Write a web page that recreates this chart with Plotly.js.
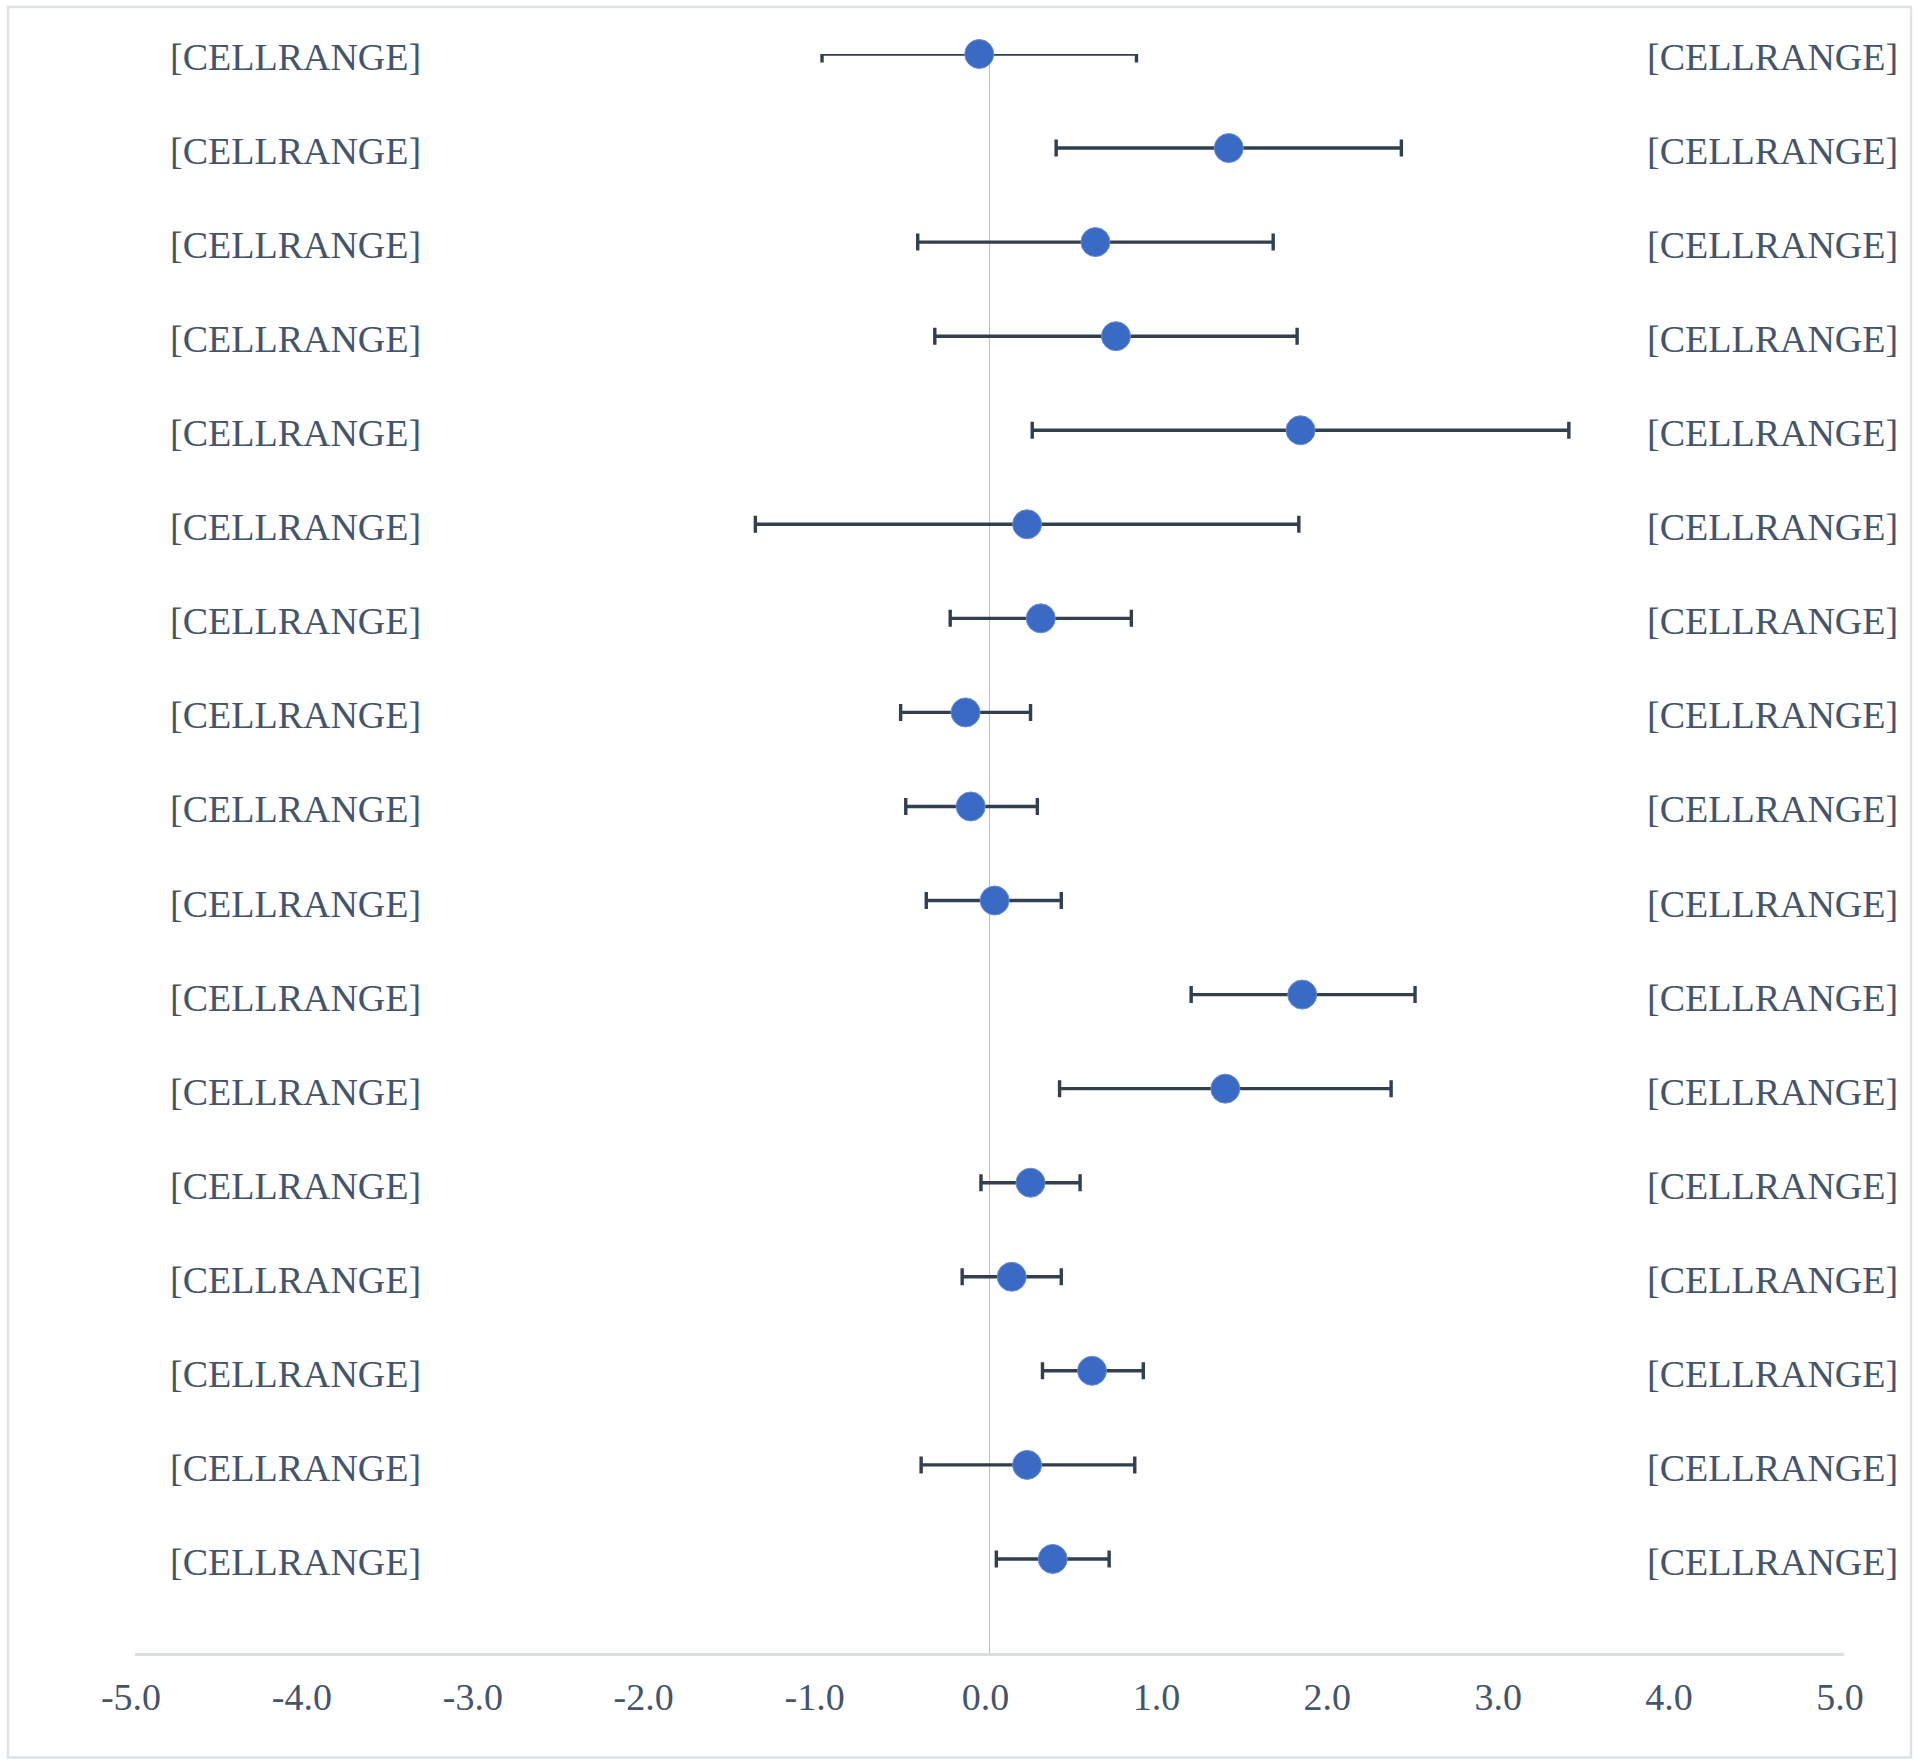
<!DOCTYPE html>
<html>
<head>
<meta charset="utf-8">
<script src="https://cdn.plot.ly/plotly-3.0.1.min.js"></script>
<style>
  html, body { margin: 0; padding: 0; background: #ffffff; }
  #chart { width: 1920px; height: 1764px; }
</style>
</head>
<body>
<div id="chart"></div>
<script>
// ---- Data (top row first) ----
const rowPositions = [17, 16, 15, 14, 13, 12, 11, 10, 9, 8, 7, 6, 5, 4, 3, 2, 1];
const estimates = [-0.06, 1.40, 0.62, 0.74, 1.82, 0.22, 0.30, -0.14, -0.11, 0.03, 1.83, 1.38, 0.24, 0.13, 0.60, 0.22, 0.37];
const lowerCI   = [-0.98, 0.39, -0.42, -0.32, 0.25, -1.37, -0.23, -0.52, -0.49, -0.37, 1.18, 0.41, -0.05, -0.16, 0.31, -0.40, 0.04];
const upperCI   = [0.86, 2.41, 1.66, 1.80, 3.39, 1.81, 0.83, 0.24, 0.28, 0.42, 2.49, 2.35, 0.53, 0.42, 0.90, 0.85, 0.70];
const leftLabels  = Array(17).fill("[CELLRANGE]");
const rightLabels = Array(17).fill("[CELLRANGE]");
const xTickValues = [-5, -4, -3, -2, -1, 0, 1, 2, 3, 4, 5];
const xTickLabels = ["-5.0", "-4.0", "-3.0", "-2.0", "-1.0", "0.0", "1.0", "2.0", "3.0", "4.0", "5.0"];

// ---- Style constants ----
const FONT = '"Liberation Serif", "Times New Roman", serif';
const TEXT_COLOR = '#44546A';
const LEFT_LABEL_X = -4.06;
const RIGHT_LABEL_X = 4.58;

const errPlus  = upperCI.map((u, i) => u - estimates[i]);
const errMinus = estimates.map((e, i) => e - lowerCI[i]);

const traces = [
  {
    type: 'scatter', mode: 'markers',
    x: estimates, y: rowPositions,
    marker: { color: 'rgba(0,0,0,0)', size: 1 },
    error_x: {
      type: 'data', symmetric: false,
      array: errPlus, arrayminus: errMinus,
      color: '#323F4F', thickness: 3.4, width: 8.5
    },
    cliponaxis: true, hoverinfo: 'skip', showlegend: false
  },
  {
    type: 'scatter', mode: 'markers',
    x: estimates, y: rowPositions,
    marker: {
      color: '#3B6AC4', size: 29,
      line: { color: '#6A8ED4', width: 1 }
    },
    cliponaxis: false, hoverinfo: 'skip', showlegend: false
  }
];

const labelFont = { family: FONT, size: 38, color: TEXT_COLOR };
const annotations = [];
rowPositions.forEach((y, i) => {
  annotations.push({ x: LEFT_LABEL_X, y: y, xref: 'x', yref: 'y', text: leftLabels[i],
    showarrow: false, xanchor: 'center', yanchor: 'middle', yshift: -3, font: labelFont });
  annotations.push({ x: RIGHT_LABEL_X, y: y, xref: 'x', yref: 'y', text: rightLabels[i],
    showarrow: false, xanchor: 'center', yanchor: 'middle', yshift: -3, font: labelFont });
});

const layout = {
  width: 1920, height: 1764,
  margin: { l: 135, r: 76, t: 54, b: 111, pad: 0 },
  paper_bgcolor: '#ffffff', plot_bgcolor: '#ffffff',
  showlegend: false,
  font: { family: FONT, size: 38, color: TEXT_COLOR },
  xaxis: {
    range: [-5, 5], fixedrange: true,
    tickmode: 'array', tickvals: xTickValues, ticktext: xTickLabels,
    ticks: '', ticklabelstandoff: 8, ticklabelshift: -4,
    tickfont: { family: FONT, size: 38, color: TEXT_COLOR },
    showgrid: false,
    zeroline: true, zerolinecolor: '#B4C0D2', zerolinewidth: 1.5,
    showline: true, linecolor: '#D9DEE5', linewidth: 3
  },
  yaxis: {
    range: [0, 17], fixedrange: true,
    showticklabels: false, ticks: '', showgrid: false,
    zeroline: false, showline: false
  },
  annotations: annotations,
  shapes: [{
    type: 'rect', xref: 'paper', yref: 'paper',
    x0: -0.0743, x1: 1.0392, y0: -0.0653, y1: 1.0294,
    line: { color: '#DDE2E9', width: 2.5 }, fillcolor: 'rgba(0,0,0,0)',
    layer: 'below'
  }]
};

Plotly.newPlot('chart', traces, layout, { displayModeBar: false, staticPlot: true });
</script>
</body>
</html>
